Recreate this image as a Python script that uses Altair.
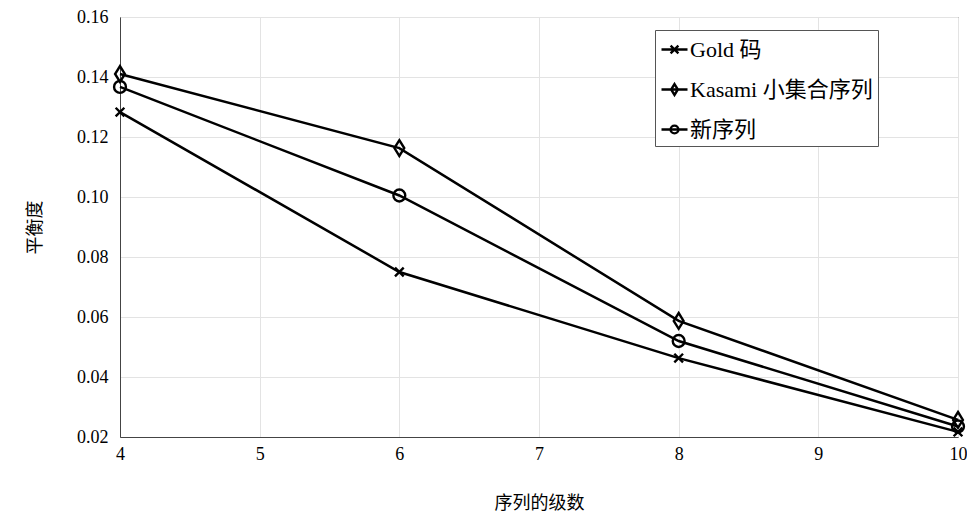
import altair as alt
import pandas as pd

levels = [4, 6, 8, 10]
series_names = ["Gold 码", "Kasami 小集合序列", "新序列"]
gold = [0.1283, 0.0750, 0.0463, 0.0217]
kasami = [0.1410, 0.1163, 0.0587, 0.0257]
newseq = [0.1367, 0.1005, 0.0520, 0.0235]

rows = []
for name, vals in zip(series_names, [gold, kasami, newseq]):
    for x, y in zip(levels, vals):
        rows.append({"级数": x, "平衡度": y, "series": name})
df = pd.DataFrame(rows)

FONT = "Liberation Serif, Noto Sans CJK SC"
PAD = "\u00a0" * 12

marker_paths = [
    "M-0.55,-0.55L0.55,0.55M-0.55,0.55L0.55,-0.55",
    "M0,-1L0.62,0L0,1L-0.62,0Z",
    "M-0.75,0A0.75,0.75 0 1,0 0.75,0A0.75,0.75 0 1,0 -0.75,0Z",
]
legend_paths = [
    "M-1,0L1,0M-0.3,-0.3L0.3,0.3M-0.3,0.3L0.3,-0.3",
    "M-1,0L1,0M0,-0.42L0.26,0L0,0.42L-0.26,0Z",
    "M-1,0L1,0M-0.3,0A0.3,0.3 0 1,0 0.3,0A0.3,0.3 0 1,0 -0.3,0Z",
]

x_enc = alt.X("级数:Q", scale=alt.Scale(domain=[4, 10], nice=False),
              axis=alt.Axis(values=[4, 5, 6, 7, 8, 9, 10], format="d", title="序列的级数",
                            titlePadding=31, labelPadding=8))
y_enc = alt.Y("平衡度:Q", scale=alt.Scale(domain=[0.02, 0.16], nice=False, zero=False),
              axis=alt.Axis(values=[0.02, 0.04, 0.06, 0.08, 0.10, 0.12, 0.14, 0.16],
                            format=".2f", title="平衡度", titlePadding=32, labelPadding=12))

lines = alt.Chart(df).mark_line(color="black", strokeWidth=2.5).encode(
    x=x_enc, y=y_enc, detail="series:N"
)

points = alt.Chart(df).mark_point(filled=False, color="black", strokeWidth=2.4, size=250, opacity=1).encode(
    x="级数:Q", y="平衡度:Q",
    shape=alt.Shape("series:N", scale=alt.Scale(domain=series_names, range=marker_paths), legend=None),
)

legend_layer = alt.Chart(df).mark_point(filled=False, color="black", strokeWidth=2.2, size=676, opacity=0).encode(
    x="级数:Q", y="平衡度:Q",
    shape=alt.Shape("series:N", scale=alt.Scale(domain=series_names, range=legend_paths),
                    legend=alt.Legend(title=PAD, titleOrient="right", titleFontSize=22,
                                      titlePadding=0,
                                      orient="none", legendX=535, legendY=13,
                                      symbolOpacity=1, symbolStrokeColor="black",
                                      symbolFillColor="transparent", symbolStrokeWidth=2.4,
                                      symbolSize=676, labelFont=FONT, labelFontSize=22,
                                      labelColor="black", labelOffset=1,
                                      rowPadding=14, padding=5,
                                      strokeColor="#555", fillColor="white",
                                      labelLimit=400)),
)

chart = alt.layer(lines, points, legend_layer).resolve_scale(shape="independent").properties(
    width=838, height=420,
    background="white",
    autosize=alt.AutoSizeParams(type="none"),
    padding={"left": 112, "top": 9, "right": 9, "bottom": 76},
).configure_view(
    stroke="#444", strokeWidth=1
).configure_axis(
    labelFont=FONT, titleFont=FONT, labelFontSize=18, titleFontSize=18,
    labelColor="black", titleColor="black", titleFontWeight="normal",
    gridColor="#e3e3e3", gridWidth=1, domainColor="#444", tickSize=0,
    labelFlush=False,
)

chart.save("out.html", embed_options={"renderer": "svg", "actions": False})
